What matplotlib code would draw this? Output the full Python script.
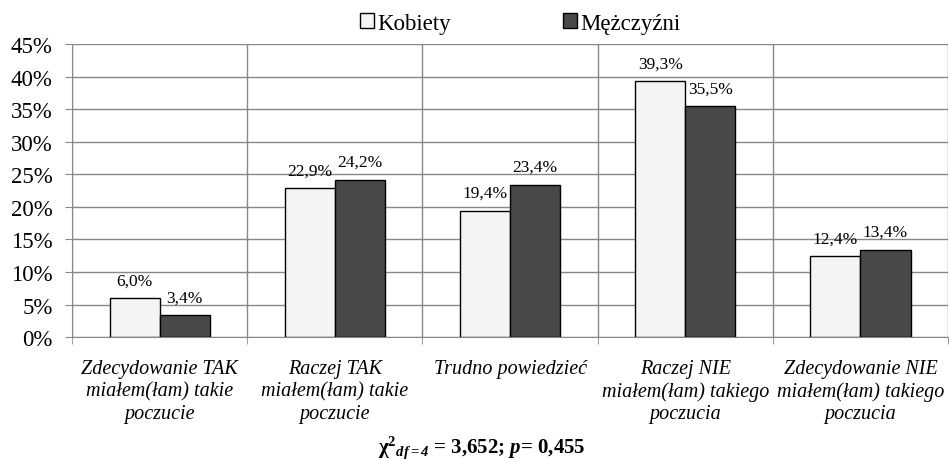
import matplotlib.pyplot as plt
import numpy as np

plt.rcParams['font.family'] = ['Liberation Serif', 'DejaVu Serif']
plt.rcParams['mathtext.fontset'] = 'custom'
plt.rcParams['mathtext.rm'] = 'Liberation Serif'
plt.rcParams['mathtext.it'] = 'Liberation Serif:italic'
plt.rcParams['mathtext.bf'] = 'Liberation Serif:bold'
plt.rcParams['mathtext.bfit'] = 'Liberation Serif:bold:italic'

kategorie = ['Zdecydowanie TAK\nmiałem(łam) takie\npoczucie',
             'Raczej TAK\nmiałem(łam) takie\npoczucie',
             'Trudno powiedzieć',
             'Raczej NIE\nmiałem(łam) takiego\npoczucia',
             'Zdecydowanie NIE\nmiałem(łam) takiego\npoczucia']
kobiety = [6.0, 22.9, 19.4, 39.3, 12.4]
mezczyzni = [3.4, 24.2, 23.4, 35.5, 13.4]
y_ticks = [0, 5, 10, 15, 20, 25, 30, 35, 40, 45]

fig = plt.figure(figsize=(9.49, 4.6), dpi=100)
ax = fig.add_axes([0.076, 0.265, 0.923, 0.637])

x = np.arange(len(kategorie))
w = 0.286
b1 = ax.bar(x - w / 2, kobiety, w, color='#f4f4f4', edgecolor='black', linewidth=1, label='Kobiety', zorder=3)
b2 = ax.bar(x + w / 2, mezczyzni, w, color='#484848', edgecolor='black', linewidth=1, label='Mężczyźni', zorder=3)

for rects, vals in ((b1, kobiety), (b2, mezczyzni)):
    for r, v in zip(rects, vals):
        ax.annotate('{:.1f}%'.format(v).replace('.', ','),
                    (r.get_x() + r.get_width() / 2, v), xytext=(0, 7),
                    textcoords='offset points', ha='center', va='bottom', fontsize=12.5)

ax.set_xlim(-0.5, len(kategorie) - 0.5)
ax.set_ylim(0, 45)
ax.set_yticks(y_ticks)
ax.set_yticklabels(['{}%'.format(t) for t in y_ticks], fontsize=16.5)
ax.set_xticks(x)
ax.set_xticklabels(kategorie, fontsize=14.5, style='italic', linespacing=1.22)
ax.set_xticks(np.arange(len(kategorie) + 1) - 0.5, minor=True)
ax.tick_params(axis='x', which='major', length=0, pad=16)
ax.tick_params(axis='x', which='minor', length=5, color='#888888')
ax.tick_params(axis='y', length=5, color='#888888', pad=9)
ax.grid(axis='y', color='#888888', linewidth=1, zorder=0)
ax.grid(axis='x', which='minor', color='#888888', linewidth=1, zorder=0)
for s in ['top', 'right']:
    ax.spines[s].set_visible(False)
for s in ['left', 'bottom']:
    ax.spines[s].set_color('#888888')

fig.legend(loc='upper center', bbox_to_anchor=(0.548, 1.015), ncol=2, frameon=False, fontsize=16.5,
           handlelength=0.6, handleheight=0.6, handletextpad=0.15, columnspacing=4.9)

fig.text(0.508, 0.016, r'$\mathbf{\chi}^{\mathbf{2}}{}_{\mathbfit{df{=}4}}$ = 3,652; $\mathbfit{p}$= 0,455',
         ha='center', va='baseline', fontsize=15, fontweight='bold')

fig.savefig('out.png', dpi=100)
